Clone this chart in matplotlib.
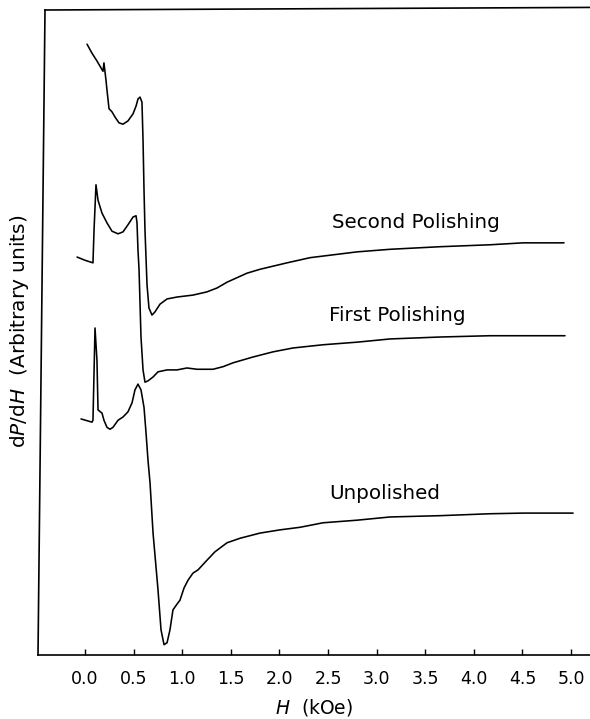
import matplotlib
matplotlib.use("Agg")
import matplotlib.pyplot as plt

# Field H (kOe) and derivative signal dP/dH (arbitrary units) for each surface
h_second = [0.021, 0.072, 0.123, 0.185, 0.195, 0.216, 0.226, 0.247, 0.278, 0.309,
            0.350, 0.391, 0.442, 0.494, 0.525, 0.545, 0.566, 0.586, 0.597, 0.607,
            0.617, 0.638, 0.658, 0.689, 0.720, 0.772, 0.844, 0.947, 1.111, 1.255,
            1.358, 1.461, 1.667, 1.800, 2.078, 2.315, 2.798, 3.138, 3.652, 4.167,
            4.506, 4.928]
p_second = [94.7, 93.3, 92.1, 90.5, 91.8, 89.1, 87.6, 84.7, 84.2, 83.4,
            82.5, 82.3, 82.8, 83.9, 85.1, 86.2, 86.5, 85.7, 79.8, 72.1,
            65.9, 57.4, 53.8, 52.7, 53.2, 54.4, 55.2, 55.5, 55.8, 56.3,
            56.9, 57.8, 59.2, 59.8, 60.8, 61.6, 62.5, 62.9, 63.3, 63.6,
            63.9, 63.9]

h_first = [-0.082, 0.000, 0.082, 0.093, 0.113, 0.134, 0.175, 0.226, 0.278, 0.340,
           0.391, 0.442, 0.494, 0.525, 0.535, 0.545, 0.556, 0.576, 0.597, 0.617,
           0.648, 0.700, 0.751, 0.844, 0.947, 1.049, 1.152, 1.317, 1.420, 1.523,
           1.728, 1.934, 2.140, 2.449, 2.798, 3.138, 3.652, 4.167, 4.938]
p_first = [61.7, 61.2, 60.8, 65.9, 72.9, 70.5, 68.5, 67.0, 65.7, 65.3,
           65.6, 66.7, 67.9, 68.1, 67.0, 62.8, 59.7, 49.3, 44.2, 42.3,
           42.5, 43.1, 43.9, 44.2, 44.2, 44.5, 44.3, 44.3, 44.7, 45.3,
           46.2, 47.0, 47.6, 48.1, 48.5, 49.0, 49.3, 49.5, 49.5]

h_unpol = [-0.041, 0.072, 0.082, 0.103, 0.123, 0.134, 0.175, 0.195, 0.226, 0.257,
           0.288, 0.340, 0.391, 0.442, 0.484, 0.514, 0.545, 0.576, 0.607, 0.628,
           0.648, 0.669, 0.700, 0.751, 0.782, 0.813, 0.844, 0.874, 0.905, 0.947,
           0.977, 1.019, 1.060, 1.111, 1.163, 1.255, 1.337, 1.461, 1.595, 1.800,
           2.006, 2.212, 2.449, 2.798, 3.138, 3.652, 4.167, 4.506, 5.021]
p_unpol = [36.6, 36.1, 36.4, 50.7, 45.7, 38.0, 37.5, 36.4, 35.3, 35.0,
           35.3, 36.4, 36.9, 37.7, 39.1, 41.1, 42.0, 41.1, 38.4, 34.4,
           30.2, 26.7, 18.9, 10.1, 3.9, 1.6, 1.9, 3.9, 7.0, 7.9,
           8.5, 10.4, 11.6, 12.7, 13.2, 14.7, 16.0, 17.4, 18.1, 18.9,
           19.4, 19.8, 20.5, 20.9, 21.4, 21.6, 21.9, 22.0, 22.0]

series_labels = ["Second Polishing", "First Polishing", "Unpolished"]
label_pos = [(2.54, 67.0), (2.51, 52.7), (2.51, 25.0)]

x_ticks = [0.0, 0.5, 1.0, 1.5, 2.0, 2.5, 3.0, 3.5, 4.0, 4.5, 5.0]
x_ticklabels = ["0.0", "0.5", "1.0", "1.5", "2.0", "2.5", "3.0", "3.5", "4.0", "4.5", "5.0"]

W, H = 590, 719
fig = plt.figure(figsize=(W / 100, H / 100), dpi=100)
ax_left, ax_right, ax_top, ax_bot = 38, 590, 10, 655
ax = fig.add_axes([ax_left / W, 1 - ax_bot / H, (ax_right - ax_left) / W, (ax_bot - ax_top) / H])

lw = 1.15
for hx, py in [(h_second, p_second), (h_first, p_first), (h_unpol, p_unpol)]:
    ax.plot(hx, py, color="black", lw=lw, solid_joinstyle="round", solid_capstyle="round")

for txt, (tx, ty) in zip(series_labels, label_pos):
    ax.text(tx, ty, txt, ha="left", va="center", fontsize=14.3, color="black")

ax.set_xlim(-0.4835, 5.195)
ax.set_ylim(0, 100)

# frame: open on the right, hand-drawn left edge leans slightly
for s in ["left", "top", "right"]:
    ax.spines[s].set_visible(False)
ax.spines["bottom"].set_linewidth(1.2)
lean = (45 - 38) / (ax_right - ax_left)
ax.plot([0, lean], [0, 1], transform=ax.transAxes, color="black", lw=1.2, clip_on=False)
ax.plot([lean, 1], [1, 1.004], transform=ax.transAxes, color="black", lw=1.2, clip_on=False)

ax.set_yticks([])
ax.set_xticks(x_ticks)
ax.set_xticklabels(x_ticklabels)
ax.tick_params(axis="x", direction="in", length=4, width=1, pad=11, labelsize=12.5)

ax.set_xlabel("$H$  (kOe)", fontsize=13.5, labelpad=6)
fig.text(20 / W, 1 - 331 / H, "d$P$/d$H$  (Arbitrary units)", rotation=90,
         ha="center", va="center", fontsize=14.5)

fig.savefig("out.png", dpi=100, facecolor="white")
